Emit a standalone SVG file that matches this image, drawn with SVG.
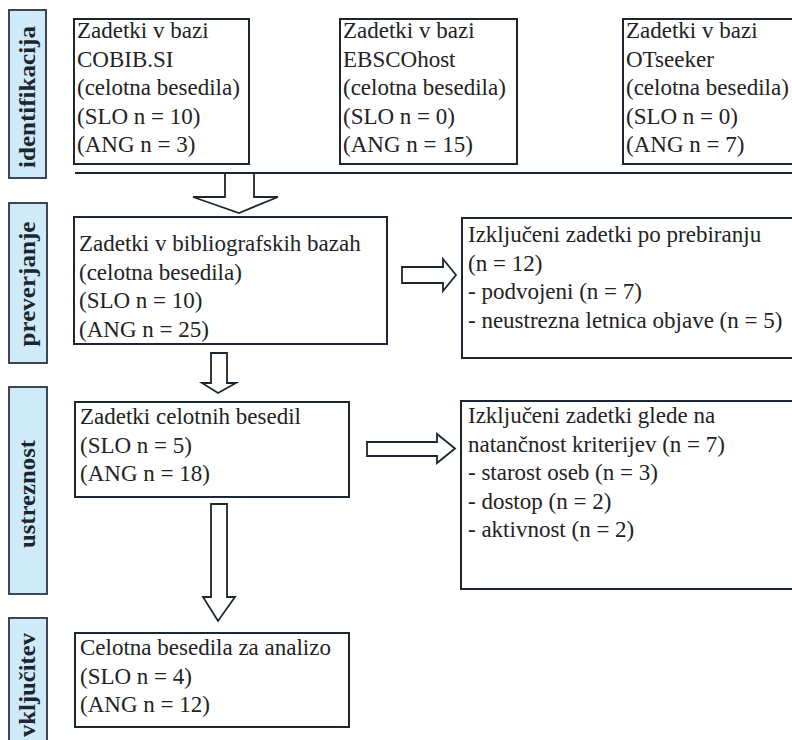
<svg xmlns="http://www.w3.org/2000/svg" width="792" height="740" viewBox="0 0 792 740">
<style>
.bg{fill:#ffffff}
.stage{fill:#cfeaf8;stroke:#2b3540;stroke-width:1.8}
.stxt{font-family:'Liberation Serif','Times New Roman','DejaVu Serif',serif;font-weight:bold;font-size:23px;fill:#1c2630;text-anchor:middle}
.box{fill:#ffffff;stroke:#1c2630;stroke-width:2}
.t{font-family:'Liberation Serif','Times New Roman','DejaVu Serif',serif;font-size:23px;fill:#222222}
.arr{fill:#ffffff;stroke:#1c2630;stroke-width:1.8;stroke-linejoin:miter}
.rule{stroke:#1c2630;stroke-width:2}
</style>
<rect class="bg" x="0" y="0" width="792" height="740"/>

<g id="stage-identifikacija">
<rect class="stage" x="9" y="10" width="37" height="168"/>
<text class="stxt" transform="translate(35,97) rotate(-90)" textLength="142" lengthAdjust="spacingAndGlyphs">identifikacija</text>
</g>
<g id="stage-preverjanje">
<rect class="stage" x="9" y="203" width="38" height="160"/>
<text class="stxt" transform="translate(35,284) rotate(-90)" textLength="125" lengthAdjust="spacingAndGlyphs">preverjanje</text>
</g>
<g id="stage-ustreznost">
<rect class="stage" x="9" y="387" width="38" height="207"/>
<text class="stxt" transform="translate(35,494) rotate(-90)" textLength="108" lengthAdjust="spacingAndGlyphs">ustreznost</text>
</g>
<g id="stage-vkljucitev">
<rect class="stage" x="9" y="618" width="38" height="140"/>
<text class="stxt" transform="translate(35,685) rotate(-90)" textLength="104" lengthAdjust="spacingAndGlyphs">vključitev</text>
</g>

<g id="cobib">
<rect class="box" x="74" y="19" width="175" height="145"/>
<text class="t" x="77" y="38">Zadetki v bazi</text>
<text class="t" x="77" y="66.5">COBIB.SI</text>
<text class="t" x="77" y="95">(celotna besedila)</text>
<text class="t" x="77" y="123.5">(SLO n = 10)</text>
<text class="t" x="77" y="152">(ANG n = 3)</text>
</g>
<g id="ebsco">
<rect class="box" x="340" y="19" width="177" height="145"/>
<text class="t" x="343" y="38">Zadetki v bazi</text>
<text class="t" x="343" y="66.5">EBSCOhost</text>
<text class="t" x="343" y="95">(celotna besedila)</text>
<text class="t" x="343" y="123.5">(SLO n = 0)</text>
<text class="t" x="343" y="152">(ANG n = 15)</text>
</g>
<g id="otseeker">
<rect class="box" x="623" y="19" width="180" height="145"/>
<text class="t" x="626" y="38">Zadetki v bazi</text>
<text class="t" x="626" y="66.5">OTseeker</text>
<text class="t" x="626" y="95">(celotna besedila)</text>
<text class="t" x="626" y="123.5">(SLO n = 0)</text>
<text class="t" x="626" y="152">(ANG n = 7)</text>
</g>

<g id="screening">
<rect class="box" x="74" y="217" width="313" height="127"/>
<text class="t" x="79" y="251">Zadetki v bibliografskih bazah</text>
<text class="t" x="79" y="279.5">(celotna besedila)</text>
<text class="t" x="79" y="308">(SLO n = 10)</text>
<text class="t" x="79" y="336.5">(ANG n = 25)</text>
</g>
<g id="excluded-screening">
<rect class="box" x="462" y="218" width="340" height="140"/>
<text class="t" x="468" y="242">Izključeni zadetki po prebiranju</text>
<text class="t" x="468" y="270.5">(n = 12)</text>
<text class="t" x="468" y="299">- podvojeni (n = 7)</text>
<text class="t" x="468" y="327.5">- neustrezna letnica objave (n = 5)</text>
</g>

<g id="eligibility">
<rect class="box" x="75" y="402" width="274" height="95"/>
<text class="t" x="80" y="424">Zadetki celotnih besedil</text>
<text class="t" x="80" y="452.5">(SLO n = 5)</text>
<text class="t" x="80" y="481">(ANG n = 18)</text>
</g>
<g id="excluded-eligibility">
<rect class="box" x="461" y="401" width="341" height="188"/>
<text class="t" x="468" y="423">Izključeni zadetki glede na</text>
<text class="t" x="468" y="451.5">natančnost kriterijev (n = 7)</text>
<text class="t" x="468" y="480">- starost oseb (n = 3)</text>
<text class="t" x="468" y="508.5">- dostop (n = 2)</text>
<text class="t" x="468" y="537">- aktivnost (n = 2)</text>
</g>

<g id="included">
<rect class="box" x="75" y="633" width="274" height="94"/>
<text class="t" x="80" y="655">Celotna besedila za analizo</text>
<text class="t" x="80" y="683.5">(SLO n = 4)</text>
<text class="t" x="80" y="712">(ANG n = 12)</text>
</g>

<g id="connectors">
<line class="rule" x1="75" y1="173" x2="792" y2="173"/>
<polygon class="arr" points="225,173 254,173 254,197 278,197 239,213 193,197 225,197"/>
<polygon class="arr" points="402,267 443,267 443,259 456,275 443,291 443,283 402,283"/>
<polygon class="arr" points="211,353 227,353 227,383 236,383 218,393 202,383 211,383"/>
<polygon class="arr" points="367,442 437,442 437,434 455,448.5 437,463 437,456 367,456"/>
<polygon class="arr" points="211,504 227,504 227,597 235,597 218,621 203,597 211,597"/>
</g>
</svg>
